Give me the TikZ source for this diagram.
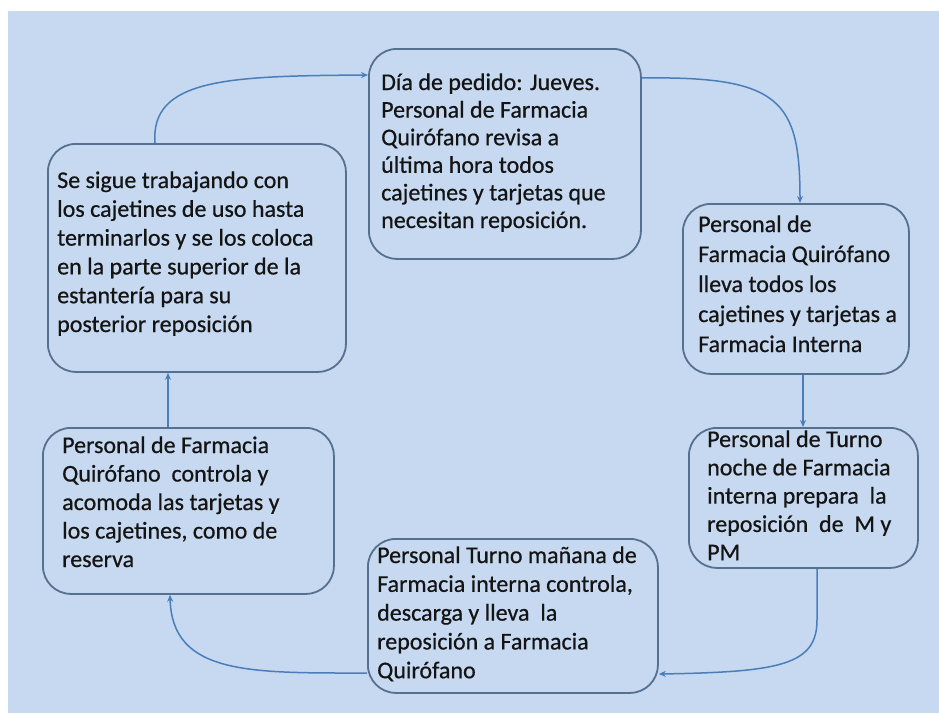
\documentclass[tikz,border=0pt]{standalone}
\usepackage{fontspec}
\setmainfont{Carlito}
\newfontfamily\boxfont{Carlito}[RawFeature={embolden=0.6}]
\usetikzlibrary{arrows.meta}
\definecolor{bg}{HTML}{C6D9F0}
\definecolor{bord}{HTML}{56708F}
\definecolor{arr}{HTML}{4A7EBB}
\definecolor{txt}{HTML}{141414}
\begin{document}
\begin{tikzpicture}[x=1pt,y=-1pt,
  box/.style={draw=bord, line width=1.8pt, rounded corners=28pt, inner sep=0pt, anchor=north west},
  lbl/.style={anchor=base west, inner sep=0pt, text=txt, font=\boxfont\fontsize{24}{#1}\selectfont},
  conn/.style={draw=arr, line width=1.5pt, -{Stealth[length=7pt,width=6pt]}}]
\useasboundingbox (0,0) rectangle (939,713);
\fill[white] (0,0) rectangle (939,713);
\fill[bg] (8,11) rectangle (939,713);

\node[box, minimum width=272pt, minimum height=210pt] (bA) at (368,48) {};
\node[box, minimum width=298pt, minimum height=228pt] (bB) at (47,143) {};
\node[box, minimum width=226pt, minimum height=170pt] (bC) at (682,203) {};
\node[box, minimum width=229pt, minimum height=140pt] (bD) at (688,427) {};
\node[box, minimum width=290pt, minimum height=154pt] (bE) at (367,538) {};
\node[box, minimum width=291pt, minimum height=166pt] (bF) at (42,427) {};

\node[lbl=27.6] (tA) at (381,90) {\begin{tabular}[t]{@{}l@{}}Día de pedido: Jueves.\\Personal de Farmacia\\Quirófano revisa a\\última hora todos\\cajetines y tarjetas que\\necesitan reposición.\end{tabular}};
\node[lbl=28.8] (tB) at (57,188) {\begin{tabular}[t]{@{}l@{}}Se sigue trabajando con\\los cajetines de uso hasta\\terminarlos y se los coloca\\en la parte superior de la\\estantería para su\\posterior reposición\end{tabular}};
\node[lbl=30] (tC) at (698,232) {\begin{tabular}[t]{@{}l@{}}Personal de\\Farmacia Quirófano\\lleva todos los\\cajetines y tarjetas a\\Farmacia Interna\end{tabular}};
\node[lbl=28.3] (tD) at (707,447) {\begin{tabular}[t]{@{}l@{}}Personal de Turno\\noche de Farmacia\\interna prepara \ la\\reposición \ de \ M y\\PM\end{tabular}};
\node[lbl=28.8] (tE) at (377,563) {\begin{tabular}[t]{@{}l@{}}Personal Turno mañana de\\Farmacia interna controla,\\descarga y lleva \ la\\reposición a Farmacia\\Quirófano\end{tabular}};
\node[lbl=28.5] (tF) at (62,453) {\begin{tabular}[t]{@{}l@{}}Personal de Farmacia\\Quirófano \ controla y\\acomoda las tarjetas y\\los cajetines, como de\\reserva\end{tabular}};

\draw[conn] (bB.north -| 155,0) .. controls (150,78) and (230,76) .. (bA.west |- 0,75);
\draw[conn] (bA.east |- 0,78) .. controls (780,76) and (800,100) .. (bC.north -| 800,0);
\draw[conn] (bC.south -| 803,0) -- (bD.north -| 803,0);
\draw[conn] (bD.south -| 817,0) -- (817,620) .. controls (817,665) and (780,672) .. (bE.east |- 0,674);
\draw[conn] (bE.west |- 0,673) .. controls (250,673) and (172,675) .. (bF.south -| 170,0);
\draw[conn] (bF.north -| 168,0) -- (bB.south -| 168,0);
\end{tikzpicture}
\end{document}
